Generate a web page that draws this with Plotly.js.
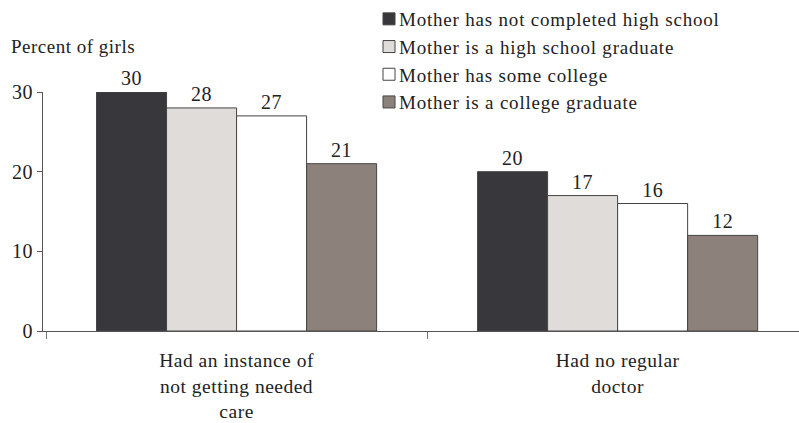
<!DOCTYPE html>
<html>
<head>
<meta charset="utf-8">
<script src="https://cdn.plot.ly/plotly-3.0.1.min.js"></script>
<style>
html,body{margin:0;padding:0;background:#fff;}
#chart{width:799px;height:423px;}
svg text{letter-spacing:0.5px;}
svg text.legendtext{letter-spacing:0.8px;}
#chart g.legendsymbols{transform:translate(10px,0px);}
</style>
</head>
<body>
<div id="chart"></div>
<script>
const categories = ["Had an instance of<br>not getting needed<br>care", "Had no regular<br>doctor"];
const seriesNames = [
  "Mother has not completed high school",
  "Mother is a high school graduate",
  "Mother has some college",
  "Mother is a college graduate"
];
const notCompletedHS = [30, 20];
const hsGraduate = [28, 17];
const someCollege = [27, 16];
const collegeGraduate = [21, 12];
const yTicks = [0, 10, 20, 30];
const colors = ["#38373c", "#e0dcd9", "#ffffff", "#8d817c"];

const seriesValues = [notCompletedHS, hsGraduate, someCollege, collegeGraduate];
const FONT = "Liberation Serif, Times New Roman, serif";

const traces = seriesValues.map((vals, i) => ({
  type: "bar",
  name: seriesNames[i],
  x: categories,
  y: vals,
  text: vals.map(String),
  textposition: "outside",
  constraintext: "none",
  textfont: {family: FONT, size: 20, color: "#222"},
  cliponaxis: false,
  marker: {color: colors[i], line: {color: "#444", width: 1}},
  hoverinfo: "none"
}));

const layout = {
  width: 799, height: 423,
  margin: {l: 43, r: 0, t: 92, b: 92, autoexpand: false},
  paper_bgcolor: "#fff", plot_bgcolor: "#fff",
  font: {family: FONT, size: 20, color: "#222"},
  barmode: "group",
  bargap: 0.265,
  bargroupgap: 0,
  showlegend: true,
  legend: {
    xref: "paper", yref: "paper",
    x: (359 - 43) / 756, xanchor: "left", y: 1 + 92 / 239, yanchor: "top",
    font: {family: FONT, size: 19, color: "#222"},
    itemwidth: 30, tracegroupgap: 0,
    traceorder: "normal",
    bgcolor: "rgba(0,0,0,0)"
  },
  xaxis: {
    type: "category",
    range: [-0.508, 1.476],
    showline: true, linecolor: "#555", linewidth: 1,
    ticks: "outside", tickson: "boundaries", ticklen: 7, tickcolor: "#777",
    tickfont: {family: FONT, size: 19.5, color: "#222"},
    ticklabelstandoff: 12,
    tickangle: 0,
    showgrid: false, zeroline: false, fixedrange: true
  },
  yaxis: {
    range: [0, 30],
    tickvals: yTicks,
    ticktext: yTicks.map(String),
    showline: true, linecolor: "#555", linewidth: 1,
    ticks: "outside", ticklen: 5, tickcolor: "#555",
    tickfont: {family: FONT, size: 20, color: "#222"},
    showgrid: false, zeroline: false, fixedrange: true
  },
  annotations: [{
    text: "Percent of girls",
    xref: "paper", yref: "paper",
    x: 0, xshift: -34, xanchor: "left",
    y: 1, yshift: 46, yanchor: "middle",
    showarrow: false,
    font: {family: FONT, size: 19, color: "#222"}
  }]
};

Plotly.newPlot("chart", traces, layout, {displayModeBar: false, staticPlot: true});
</script>
</body>
</html>
